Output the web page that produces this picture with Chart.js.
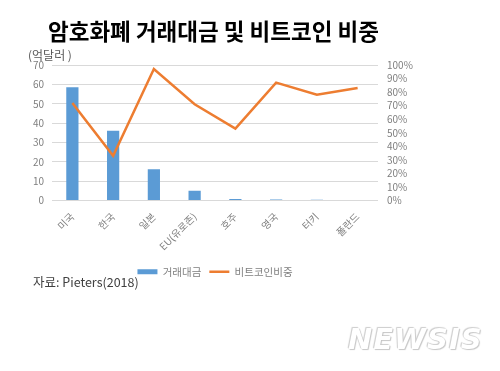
<!DOCTYPE html>
<html>
<head>
<meta charset="utf-8">
<script src="https://cdn.jsdelivr.net/npm/chart.js@4"></script>
<style>
  body { margin: 0; background: #fff; }
  #wrap { position: relative; width: 500px; height: 371px; overflow: hidden; font-family: "Noto Sans CJK KR", "Noto Sans", sans-serif; }
  #chart { position: absolute; left: 0; top: 0; }
  .title { position: absolute; left: 48px; top: 14px; font-size: 22.5px; font-weight: bold; color: #000; white-space: nowrap; }
  .unit { position: absolute; left: 28px; top: 46px; font-size: 12px; color: #595959; white-space: nowrap; }
  .source { position: absolute; left: 33px; top: 272px; font-size: 12.5px; color: #404040; white-space: nowrap; }
  .logo { position: absolute; left: 348px; top: 322px; font-family: "DejaVu Sans", sans-serif; font-size: 29px; font-weight: bold; font-style: italic; color: #fff; letter-spacing: 1px;
          text-shadow: 0 0 1px #b8b8b8, 1px 1px 1px #c8c8c8, -1px -1px 1px #d0d0d0; }
</style>
</head>
<body>
<div id="wrap">
  <canvas id="chart" width="500" height="371"></canvas>
  <div class="title">암호화폐 거래대금 및 비트코인 비중</div>
  <div class="unit">(억달러 )</div>
  <div class="source">자료: Pieters(2018)</div>
  <div class="logo">NEWSIS</div>
</div>
<script>
// 국가별 거래대금(억달러)와 비트코인 비중(%)
const countries = ['미국', '한국', '일본', 'EU(유로존)', '호주', '영국', '터키', '폴란드'];
const volume = [58.5, 36, 16.2, 5, 0.8, 0.5, 0.4, 0.3];
const btcShare = [72, 33, 97, 71, 53, 87, 78, 83];
const volumeTicks = { min: 0, max: 70, step: 10 };
const shareTicks = { min: 0, max: 100, step: 10 };

const gray = '#7f7f7f';
const tickFont = { family: '"Noto Sans CJK KR", "Noto Sans", sans-serif', size: 10 };

new Chart(document.getElementById('chart'), {
    data: {
        labels: countries,
        datasets: [
            {
                type: 'line',
                label: '비트코인비중',
                data: btcShare,
                yAxisID: 'y1',
                borderColor: '#ed7d31',
                backgroundColor: '#ed7d31',
                borderWidth: 2.5,
                pointRadius: 0,
                pointStyle: 'line',
                tension: 0,
                order: 0
            },
            {
                type: 'bar',
                label: '거래대금',
                data: volume,
                yAxisID: 'y',
                backgroundColor: '#5b9bd5',
                pointStyle: 'rect',
                barPercentage: 0.3,
                categoryPercentage: 1,
                order: 1
            }
        ]
    },
    options: {
        responsive: false,
        animation: false,
        layout: { padding: { top: 65, left: 0, right: 0, bottom: 84 } },
        plugins: {
            legend: {
                position: 'bottom',
                fullSize: false,
                reverse: true,
                labels: {
                    usePointStyle: true,
                    pointStyleWidth: 20,
                    boxHeight: 5,
                    padding: 8,
                    color: gray,
                    font: { family: tickFont.family, size: 10.5 }
                }
            },
            tooltip: { enabled: false }
        },
        scales: {
            x: {
                grid: { display: false },
                border: { display: false },
                ticks: { color: gray, font: tickFont, minRotation: 45, maxRotation: 45, padding: 2 },
                afterFit: (scale) => { scale.height = 58; }
            },
            y: {
                position: 'left',
                min: volumeTicks.min,
                max: volumeTicks.max,
                ticks: { stepSize: volumeTicks.step, autoSkip: false, color: gray, font: tickFont, padding: 8 },
                grid: { color: '#d9d9d9', drawTicks: false },
                border: { display: false },
                afterFit: (scale) => { scale.width = 52; }
            },
            y1: {
                position: 'right',
                min: shareTicks.min,
                max: shareTicks.max,
                ticks: { stepSize: shareTicks.step, autoSkip: false, color: gray, font: tickFont, padding: 9, callback: (v) => v + '%' },
                grid: { display: false, drawTicks: false },
                border: { display: false },
                afterFit: (scale) => { scale.width = 122; }
            }
        }
    }
});
</script>
</body>
</html>
